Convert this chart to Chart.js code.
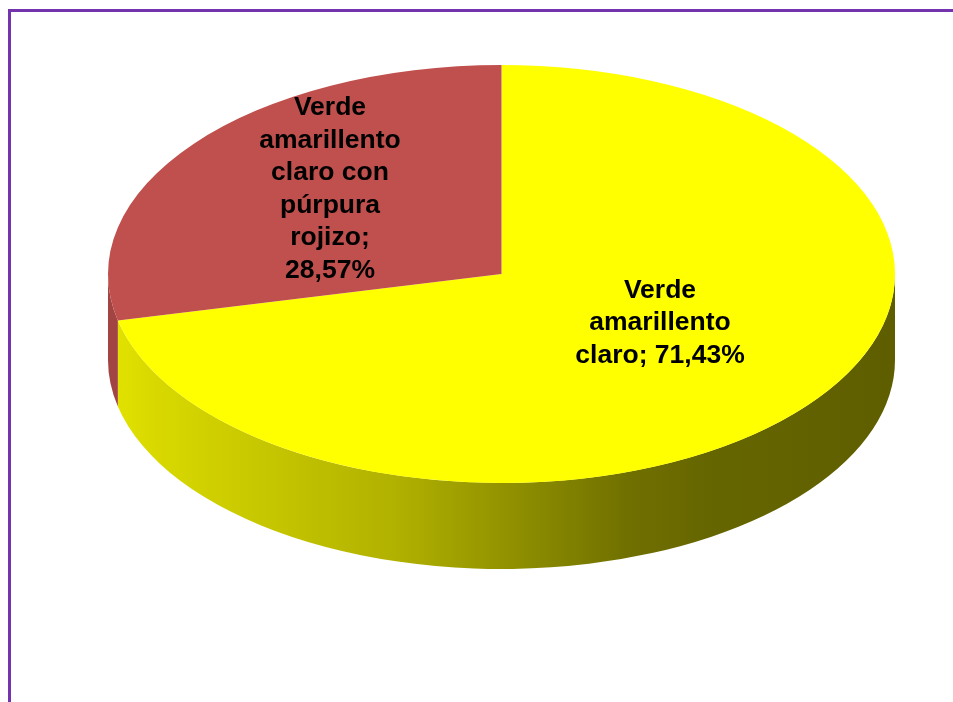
<!DOCTYPE html>
<html>
<head>
<meta charset="utf-8">
<title>Pie 3D</title>
<script src="https://cdn.jsdelivr.net/npm/chart.js@4.4.1/dist/chart.umd.min.js"></script>
<style>
  html, body { margin: 0; padding: 0; background: #fff; }
  #wrap { position: relative; width: 953px; height: 702px; overflow: hidden; }
  #frame { position: absolute; left: 8px; top: 9px; width: 1000px; height: 800px;
           border-left: 3px solid #7434ad; border-top: 3px solid #7434ad; }
  canvas { position: absolute; left: 0; top: 0; }
</style>
</head>
<body>
<div id="wrap">
  <div id="frame"></div>
  <canvas id="myChart" width="953" height="702"></canvas>
</div>
<script>
'use strict';

// *******Data*******
let categories = ['Verde amarillento claro', 'Verde amarillento claro con púrpura rojizo'];
let values = [71.43, 28.57];
let topColors = ['#ffff00', '#c0504d'];

// ******Layout (where the flattened pie sits on the page)******
let ellipse = { cx: 501.5, cy: 274, rx: 393.5, ry: 209, depth: 86 };
let labelAt = [{ x: 660, y: 323, maxWidth: 185 }, { x: 330, y: 189, maxWidth: 160 }];
let labelFont = 'bold 26.5px "Liberation Sans", Arial, sans-serif';
let lineHeight = 32.5;

const ctx = document.getElementById('myChart').getContext('2d');

//*********Helpers****
function sideFill(c, index){
  if(index === 0){
    let g = c.createLinearGradient(ellipse.cx - ellipse.rx, 0, ellipse.cx + ellipse.rx, 0);
    g.addColorStop(0, '#e4e400');
    g.addColorStop(0.05, '#dada00');
    g.addColorStop(0.37, '#b0b000');
    g.addColorStop(0.55, '#888800');
    g.addColorStop(0.66, '#707000');
    g.addColorStop(0.76, '#666600');
    g.addColorStop(1, '#5e5e00');
    return g;
  }
  return '#a24442';
}

function percentText(i){
  let total = values.reduce((a, b) => a + b, 0);
  return (values[i] / total * 100).toFixed(2).replace('.', ',') + '%';
}

function wrapText(c, text, maxWidth){
  let words = text.split(' ');
  let lines = [];
  let line = '';
  for(let i = 0; i < words.length; i++){
    let test = line ? line + ' ' + words[i] : words[i];
    if(line && c.measureText(test).width > maxWidth){
      lines.push(line);
      line = words[i];
    } else {
      line = test;
    }
  }
  lines.push(line);
  return lines;
}

// ******3D pie plugin: draws the side wall, then squashes the arcs into an ellipse*****
const pie3d = {
  id: 'pie3d',
  beforeDatasetsDraw(chart){
    let c = chart.ctx;
    let arcs = chart.getDatasetMeta(0).data;
    // side wall, only the front half (angles 0..PI) is seen
    arcs.forEach((arc, i) => {
      let p = arc.getProps(['startAngle', 'endAngle'], true);
      [-2 * Math.PI, 0, 2 * Math.PI].forEach(k => {
        let lo = Math.max(p.startAngle, k);
        let hi = Math.min(p.endAngle, Math.PI + k);
        if(hi <= lo) return;
        c.save();
        c.beginPath();
        c.ellipse(ellipse.cx, ellipse.cy, ellipse.rx, ellipse.ry, 0, lo - k, hi - k, false);
        c.ellipse(ellipse.cx, ellipse.cy + ellipse.depth, ellipse.rx, ellipse.ry, 0, hi - k, lo - k, true);
        c.closePath();
        c.fillStyle = sideFill(c, i);
        c.fill();
        c.restore();
      });
    });
    let a = arcs[0].getProps(['x', 'y', 'outerRadius'], true);
    c.save();
    c.translate(ellipse.cx, ellipse.cy);
    c.scale(ellipse.rx / a.outerRadius, ellipse.ry / a.outerRadius);
    c.translate(-a.x, -a.y);
  },
  afterDatasetsDraw(chart){
    chart.ctx.restore();
  },
  afterDraw(chart){
    let c = chart.ctx;
    c.save();
    c.font = labelFont;
    c.fillStyle = '#000';
    c.textAlign = 'center';
    c.textBaseline = 'middle';
    for(let i = 0; i < categories.length; i++){
      let lines = wrapText(c, categories[i] + '; ' + percentText(i), labelAt[i].maxWidth);
      let top = labelAt[i].y - (lines.length - 1) * lineHeight / 2;
      lines.forEach((ln, j) => c.fillText(ln, labelAt[i].x, top + j * lineHeight));
    }
    c.restore();
  }
};

//*******Chart******
let myChartObj = {
  type: 'pie',
  data: {
    labels: categories,
    datasets: [{
      data: values,
      backgroundColor: topColors,
      borderWidth: 0
    }]
  },
  options: {
    responsive: false,
    devicePixelRatio: 1,
    animation: false,
    rotation: 0,
    layout: { padding: 0 },
    plugins: {
      legend: { display: false },
      tooltip: { enabled: false }
    }
  },
  plugins: [pie3d]
};

const myChart = new Chart(ctx, myChartObj);
</script>
</body>
</html>
